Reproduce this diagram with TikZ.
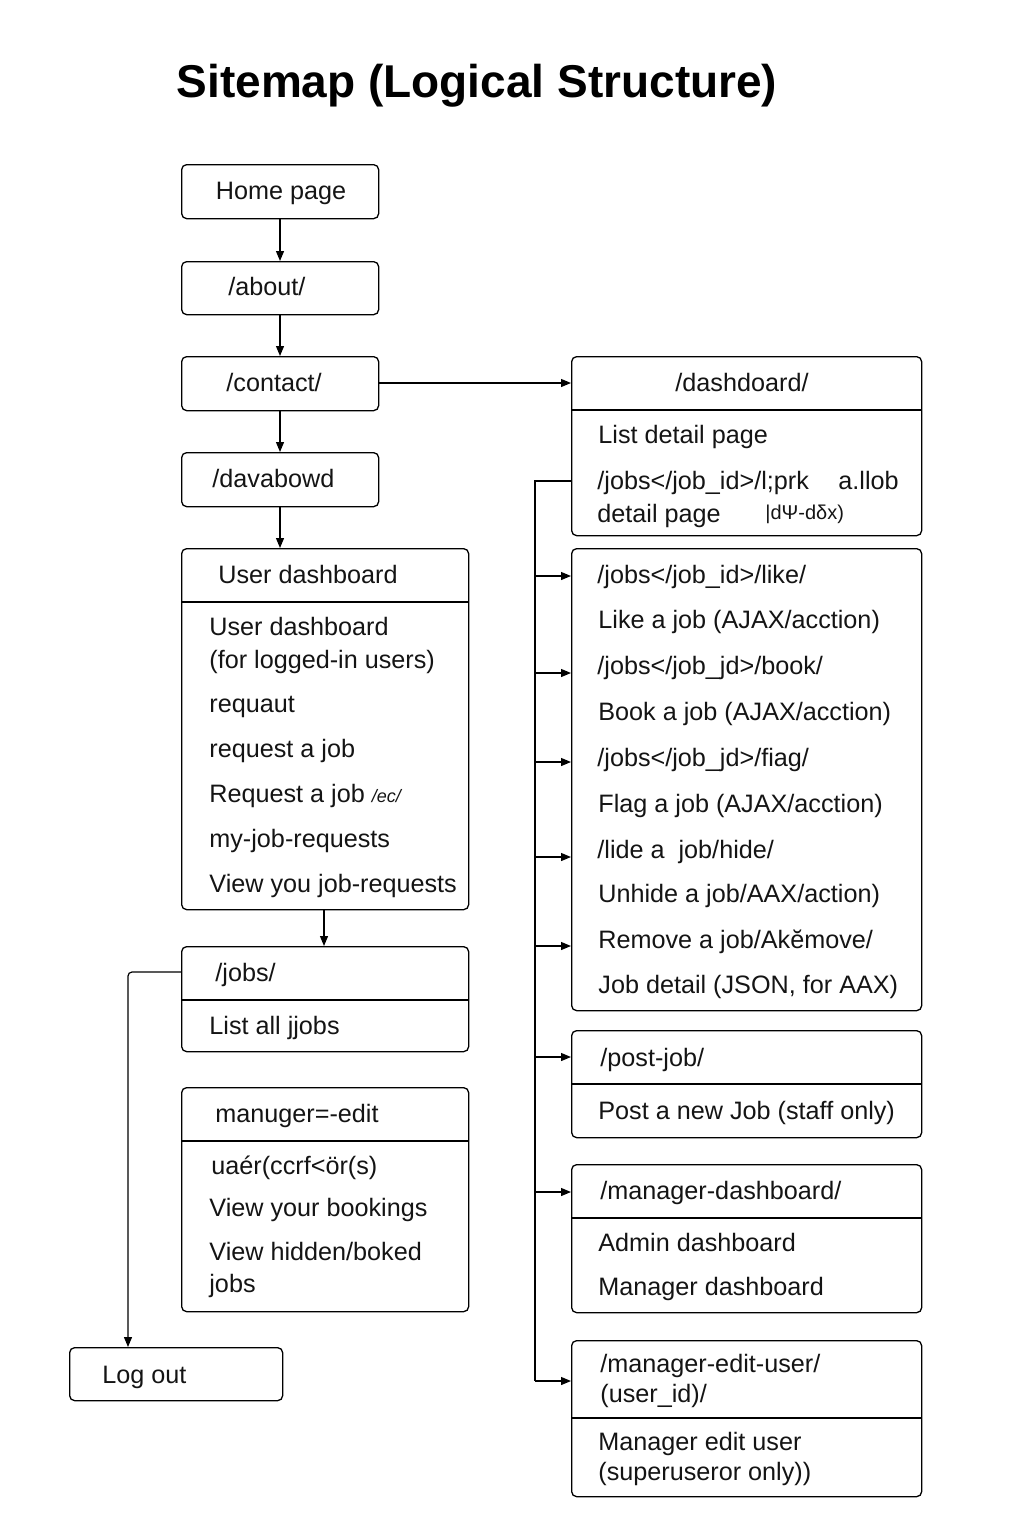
\documentclass[tikz,border=0pt]{standalone}
\usepackage{fontspec}
\setmainfont{Liberation Sans}
\usetikzlibrary{arrows.meta}
\newcommand\fs{\fontsize{12.6}{15}\selectfont}
\tikzset{
  box/.style={draw, line width=0.65pt, rounded corners=2.5pt, anchor=north west, inner sep=0pt},
  txt/.style={anchor=west, inner sep=0pt, font=\fs, text=black!92, text height=9pt, text depth=2.6pt, yshift=-1.5pt},
  arr/.style={-{Triangle[length=5pt,width=4pt]}, line width=0.6pt},
  ln/.style={line width=0.6pt},
  divl/.style={line width=0.65pt}
}
\begin{document}
\begin{tikzpicture}[x=0.5pt,y=-0.5pt]
\useasboundingbox (0,0) rectangle (1024,1536);
\node[font=\bfseries\fontsize{23}{27}\selectfont, inner sep=0pt] (title) at (477,86) {Sitemap (Logical Structure)};

% left column boxes
\node[box, minimum width=98.5pt, minimum height=27pt] (home) at (181,164) {};
\node[box, minimum width=98.5pt, minimum height=26.5pt] (about) at (181,261) {};
\node[box, minimum width=98.5pt, minimum height=27pt] (contact) at (181,356) {};
\node[box, minimum width=98.5pt, minimum height=27pt] (davab) at (181,452) {};
\node[box, minimum width=143.5pt, minimum height=180.5pt] (ud) at (181,548) {};
\node[box, minimum width=143.5pt, minimum height=52.5pt] (jobs) at (181,946) {};
\node[box, minimum width=143.5pt, minimum height=112pt] (medit) at (181,1087) {};
\node[box, minimum width=106.5pt, minimum height=26.5pt] (logout) at (69,1347) {};

% right column boxes
\node[box, minimum width=175pt, minimum height=89.5pt] (dash) at (571,356) {};
\node[box, minimum width=175pt, minimum height=231pt] (jl) at (571,548) {};
\node[box, minimum width=175pt, minimum height=53.5pt] (post) at (571,1030) {};
\node[box, minimum width=175pt, minimum height=74pt] (mgr) at (571,1164) {};
\node[box, minimum width=175pt, minimum height=78pt] (meu) at (571,1340) {};

% dividers
\draw[divl] (ud.west |- 0,602) -- (ud.east |- 0,602);
\draw[divl] (jobs.west |- 0,1000) -- (jobs.east |- 0,1000);
\draw[divl] (medit.west |- 0,1141) -- (medit.east |- 0,1141);
\draw[divl] (dash.west |- 0,410) -- (dash.east |- 0,410);
\draw[divl] (post.west |- 0,1084) -- (post.east |- 0,1084);
\draw[divl] (mgr.west |- 0,1218) -- (mgr.east |- 0,1218);
\draw[divl] (meu.west |- 0,1418) -- (meu.east |- 0,1418);

% left texts
\node[txt, anchor=center] (t-home) at (281,190) {Home page};
\node[txt] (t-about) at (228,286) {/about/};
\node[txt] (t-contact) at (226,382) {/contact/};
\node[txt] (t-davab) at (212,478) {/davabowd};
\node[txt] (t-ud) at (218,574) {User dashboard};
\node[txt] (t-ud1) at (209,626) {User dashboard};
\node[txt] (t-ud2) at (209,659) {(for logged-in users)};
\node[txt] (t-ud3) at (209,703) {requaut};
\node[txt] (t-ud4) at (209,748) {request a job};
\node[txt] (t-ud5) at (209,793) {Request a job \textit{\fontsize{9}{10}\selectfont /ec/}};
\node[txt] (t-ud6) at (209,838) {my-job-requests};
\node[txt] (t-ud7) at (209,883) {View you job-requests};
\node[txt] (t-jobs) at (215,972) {/jobs/};
\node[txt] (t-jobs1) at (209,1025) {List all jjobs};
\node[txt] (t-me) at (215,1113) {manuger=-edit};
\node[txt] (t-me1) at (211,1165) {uaér(ccrf<ör(s)};
\node[txt] (t-me2) at (209,1207) {View your bookings};
\node[txt] (t-me3) at (209,1251) {View hidden/boked};
\node[txt] (t-me4) at (209,1283) {jobs};
\node[txt] (t-logout) at (102,1374) {Log out};

% right texts
\node[txt, anchor=center] (t-dash) at (742,382) {/dashdoard/};
\node[txt] (t-d1) at (598,434) {List detail page};
\node[txt] (t-d2) at (597,480) {/jobs</job\_id>/l;prk};
\node[txt] (t-d3) at (838,480) {a.llob};
\node[txt] (t-d4) at (597,513) {detail page};
\node[txt] (t-d5) at (765,510) {\fontsize{10}{12}\selectfont |dΨ-dδx)};
\node[txt] (t-j1) at (597,574) {/jobs</job\_id>/like/};
\node[txt] (t-j2) at (598,619) {Like a job (AJAX/acction)};
\node[txt] (t-j3) at (597,665) {/jobs</job\_jd>/book/};
\node[txt] (t-j4) at (598,711) {Book a job (AJAX/acction)};
\node[txt] (t-j5) at (597,757) {/jobs</job\_jd>/fiag/};
\node[txt] (t-j6) at (598,803) {Flag a job (AJAX/acction)};
\node[txt] (t-j7) at (597,849) {/lide a\ \ job/hide/};
\node[txt] (t-j8) at (598,893) {Unhide a job/AAX/action)};
\node[txt] (t-j9) at (598,939) {Remove a job/Akĕmove/};
\node[txt] (t-j10) at (598,984) {Job detail (JSON, for AAX)};
\node[txt] (t-p1) at (600,1057) {/post-job/};
\node[txt] (t-p2) at (598,1110) {Post a new Job (staff only)};
\node[txt] (t-m1) at (600,1190) {/manager-dashboard/};
\node[txt] (t-m2) at (598,1242) {Admin dashboard};
\node[txt] (t-m3) at (598,1286) {Manager dashboard};
\node[txt] (t-e1) at (600,1363) {/manager-edit-user/};
\node[txt] (t-e2) at (600,1393) {(user\_id)/};
\node[txt] (t-e3) at (598,1441) {Manager edit user};
\node[txt] (t-e4) at (598,1471) {(superuseror only))};

% left connectors
\draw[arr] (home.south -| 280,0) -- (about.north -| 280,0);
\draw[arr] (about.south -| 280,0) -- (contact.north -| 280,0);
\draw[arr] (contact.south -| 280,0) -- (davab.north -| 280,0);
\draw[arr] (davab.south -| 280,0) -- (ud.north -| 280,0);
\draw[arr] (ud.south -| 324,0) -- (jobs.north -| 324,0);
\draw[arr] (contact.east |- 0,383) -- (dash.west |- 0,383);
\draw[arr, rounded corners=2pt] (jobs.west |- 0,972) -| ([xshift=29.5pt]logout.north west);

% right bus
\coordinate (bustop) at (535,481);
\coordinate (busbot) at (535,1381);
\coordinate (b1) at (535,576);
\coordinate (b2) at (535,673);
\coordinate (b3) at (535,762);
\coordinate (b4) at (535,857);
\coordinate (b5) at (535,946);
\coordinate (b6) at (535,1057);
\coordinate (b7) at (535,1192);
\draw[ln] (dash.west |- bustop) -- (bustop) -- (busbot);
\draw[arr] (busbot) -- (meu.west |- busbot);
\draw[arr] (b1) -- (jl.west |- b1);
\draw[arr] (b2) -- (jl.west |- b2);
\draw[arr] (b3) -- (jl.west |- b3);
\draw[arr] (b4) -- (jl.west |- b4);
\draw[arr] (b5) -- (jl.west |- b5);
\draw[arr] (b6) -- (post.west |- b6);
\draw[arr] (b7) -- (mgr.west |- b7);
\end{tikzpicture}
\end{document}
